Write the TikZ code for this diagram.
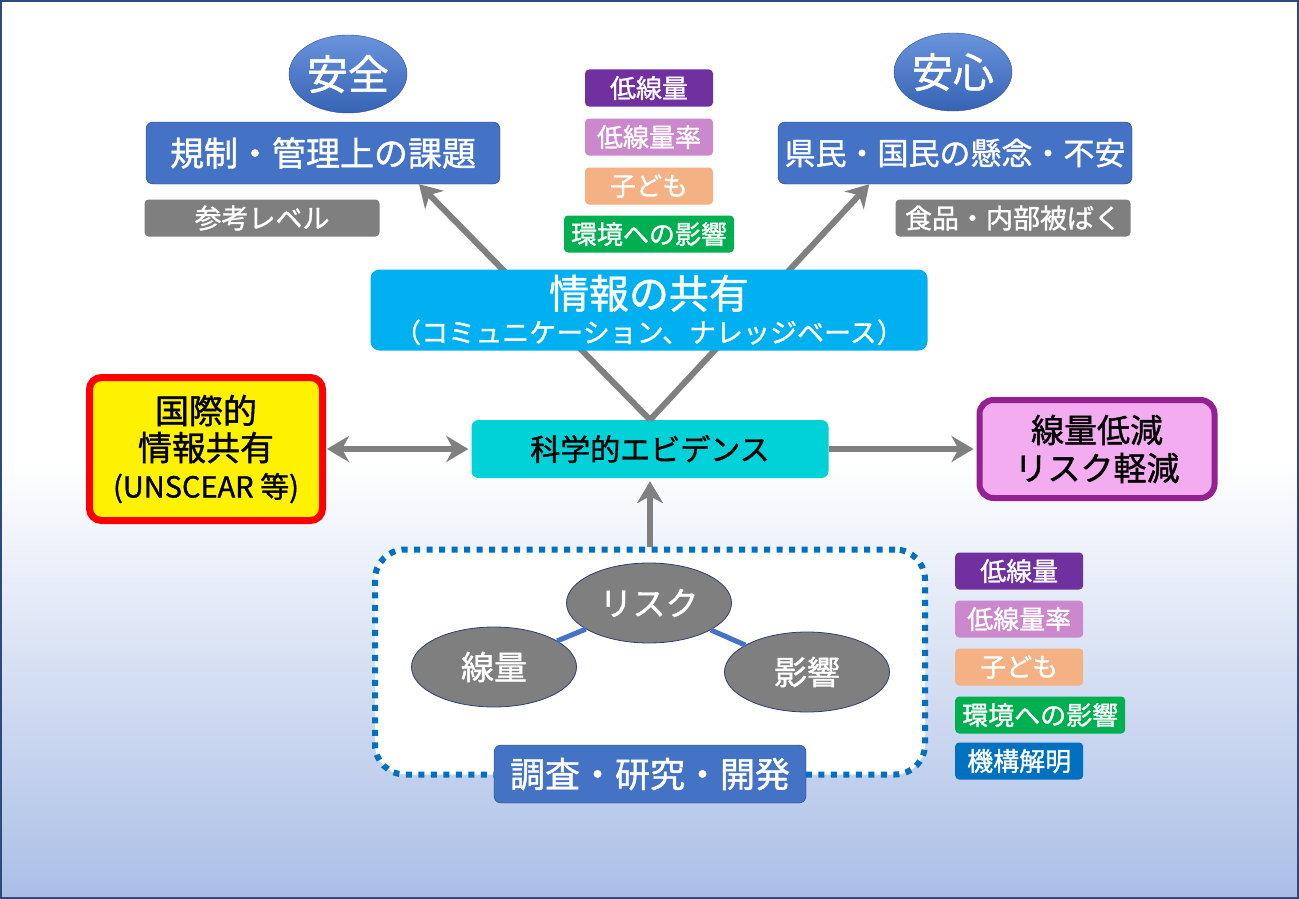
\documentclass[tikz,border=0pt]{standalone}
\usepackage{fontspec}
\newfontfamily\jp{Noto Sans CJK JP}[RawFeature={embolden=1.2}]
\usetikzlibrary{shapes.geometric,arrows.meta}

\definecolor{boxblue}{HTML}{4472C4}
\definecolor{boxline}{HTML}{2F3F6F}
\definecolor{goaltop}{HTML}{6A93DC}
\definecolor{goalbot}{HTML}{3663B5}
\definecolor{tagpurple}{HTML}{7030A0}
\definecolor{taglilac}{HTML}{CC88CC}
\definecolor{tagorange}{HTML}{F4B183}
\definecolor{taggreen}{HTML}{00B050}
\definecolor{tagblue}{HTML}{0070C0}
\definecolor{infoblue}{HTML}{00B0F0}
\definecolor{evicyan}{HTML}{00D2D8}
\definecolor{arrgray}{HTML}{808080}
\definecolor{ellgray}{HTML}{7F7F7F}
\definecolor{pinkfill}{HTML}{F4ACF0}
\definecolor{pinkline}{HTML}{942092}
\definecolor{bgblue}{HTML}{AABEE6}
\definecolor{framecol}{HTML}{2E4A7D}

\newcommand\jpsz[2]{\jp\fontsize{#1}{#2}\selectfont}

\tikzset{
  goal/.style={ellipse, draw=goalbot!80!black, thin, top color=goaltop, bottom color=goalbot,
    minimum width=118pt, minimum height=78pt, inner sep=0pt, text=white, font=\jpsz{41}{46}},
  topic/.style={rectangle, rounded corners=7pt, draw=boxline, fill=boxblue, text=white,
    minimum width=354pt, minimum height=62pt, font=\jpsz{31}{36}},
  note/.style={rectangle, rounded corners=4pt, fill=ellgray, text=white,
    minimum width=235pt, minimum height=37pt, font=\jpsz{27}{30}},
  tag/.style={rectangle, rounded corners=4pt, text=white, minimum width=128pt,
    minimum height=37pt, inner xsep=7pt, font=\jpsz{26}{30}},
  blob/.style={ellipse, fill=ellgray, draw=boxline, thick, text=white,
    minimum width=165pt, minimum height=80pt, inner sep=0pt, font=\jpsz{33}{38}},
  link/.style={draw=boxblue, line width=5pt},
  fat/.style={draw=arrgray, line width=6pt,
    -{Stealth[length=22pt,width=26pt,inset=7pt]}}
}

\begin{document}
\begin{tikzpicture}[x=1pt, y=-1pt]

  %% background and frame
  \useasboundingbox (0,0) rectangle (1299,899);
  \fill[white] (0,0) rectangle (1299,899);
  \shade[top color=white, bottom color=bgblue] (0,460) rectangle (1299,899);
  \draw[framecol, line width=2pt] (1,1) rectangle (1298,898);

  %% top: safety / reassurance
  \node[goal] (anzen) at (348,74) {安全};
  \node[goal] (anshin) at (953,72) {安心};
  \node[topic, font=\jpsz{34}{38}] (kisei) at (323,153) {規制・管理上の課題};
  \node[topic] (kenmin) at (955,153) {県民・国民の懸念・不安};
  \node[note] (sanko) at (262,218) {参考レベル};
  \node[note] (shokuhin) at (1013,218) {食品・内部被ばく};

  %% topics in the middle
  \node[tag, fill=tagpurple] (c1) at (649,88) {低線量};
  \node[tag, fill=taglilac] (c2) at (649,137) {低線量率};
  \node[tag, fill=tagorange] (c3) at (649,186) {子ども};
  \node[tag, fill=taggreen] (c4) at (649,234) {環境への影響};

  %% evidence row
  \node[rectangle, rounded corners=7pt, fill=evicyan, minimum width=357pt,
    minimum height=58pt, font=\jpsz{30}{34}] (sci) at (650,449) {科学的エビデンス};
  \node[rectangle, rounded corners=12pt, draw=red, line width=7pt, fill=yellow,
    minimum width=233pt, minimum height=143pt, align=center, font=\jpsz{34}{37}]
    (kokusai) at (206,449) {国際的\\情報共有\\{\jpsz{29}{37}(UNSCEAR 等)}};
  \node[rectangle, rounded corners=14pt, draw=pinkline, line width=6pt, fill=pinkfill,
    minimum width=235pt, minimum height=98pt, align=center, font=\jpsz{33}{38}]
    (gensho) at (1097,449) {線量低減\\リスク軽減};

  %% research area
  \node[rectangle, rounded corners=30pt, fill=white, draw=tagblue, line width=6pt,
    dash pattern=on 6pt off 6.5pt, minimum width=550pt, minimum height=225pt]
    (lab) at (650,662) {};
  \node[blob] (risk) at (649,603) {リスク};
  \node[blob] (senryo) at (494,667) {線量};
  \node[blob] (eikyo) at (807,672) {影響};
  \draw[link] (senryo) -- (risk);
  \draw[link] (risk) -- (eikyo);
  \node[topic, minimum width=312pt, minimum height=58pt, font=\jpsz{35}{40}]
    (chosa) at (650,774) {調査・研究・開発};

  \node[tag, fill=tagpurple, anchor=west] (r1) at (955,571) {低線量};
  \node[tag, fill=taglilac, anchor=west] (r2) at (955,619) {低線量率};
  \node[tag, fill=tagorange, anchor=west] (r3) at (955,667) {子ども};
  \node[tag, fill=taggreen, anchor=west] (r4) at (955,715) {環境への影響};
  \node[tag, fill=tagblue, anchor=west] (r5) at (955,761) {機構解明};

  %% arrows
  \draw[fat] (sci.north) -- (kisei.-18);
  \draw[fat] (sci.north) -- (kenmin.-160);
  \draw[fat, {Stealth[length=22pt,width=26pt,inset=7pt]}-{Stealth[length=22pt,width=26pt,inset=7pt]},
    shorten <=1pt, shorten >=3pt] (kokusai) -- (sci);
  \draw[fat, shorten >=3pt] (sci) -- (gensho);
  \draw[fat, shorten >=3pt] (lab.north) -- (sci.south);

  %% information sharing sits over the two arrows
  \node[rectangle, rounded corners=9pt, fill=infoblue, text=white, minimum width=557pt,
    minimum height=81pt, align=center, font=\jpsz{27}{34}] (jouhou) at (649,310)
    {{\jpsz{40}{34}情報の共有}\\（コミュニケーション、ナレッジベース）};

\end{tikzpicture}
\end{document}
